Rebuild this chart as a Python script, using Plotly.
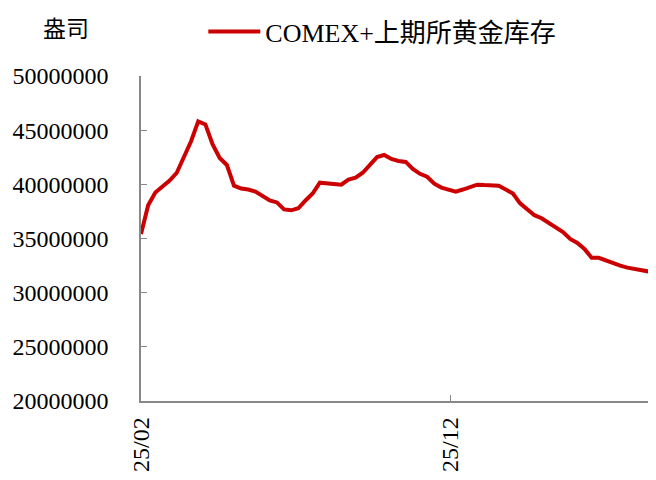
import pandas as pd
import plotly.graph_objects as go

# weekly readings, ounces
start_date = "2025-02-01"
stock_oz = [
    35410000, 38060000, 39240000, 39790000, 40340000, 41070000, 42430000, 43980000,
    45810000, 45530000, 43710000, 42430000, 41790000, 39880000, 39610000, 39520000,
    39330000, 38970000, 38510000, 38330000, 37690000, 37600000, 37790000, 38510000,
    39150000, 40150000, 40060000, 40060000, 39970000, 40430000, 40610000, 41070000,
    41790000, 42520000, 42710000, 42340000, 42160000, 42070000, 41430000, 40970000,
    40700000, 40060000, 39700000, 39520000, 39330000, 39520000, 39790000, 39970000,
    39930000, 39880000, 39880000, 39520000, 39150000, 38240000, 37690000, 37150000,
    36870000, 36420000, 35960000, 35600000, 34960000, 34590000, 34040000, 33220000,
    33220000, 32950000, 32770000, 32490000, 32310000, 32220000, 32130000, 31950000,
    31670000,
]
dates = pd.date_range(start_date, periods=len(stock_oz), freq="7D")

x_tickvals = ["2025-02-01", "2025-12-01"]
x_ticktext = ["25/02", "25/12"]
y_tickvals = [20000000, 25000000, 30000000, 35000000, 40000000, 45000000, 50000000]

font_family = "Liberation Serif, Noto Sans CJK SC, serif"

fig = go.Figure()
fig.add_trace(go.Scatter(
    x=dates,
    y=stock_oz,
    mode="lines",
    name="COMEX+上期所黄金库存",
    line=dict(color="#CC0000", width=4),
))

# page body has an 8px default margin, so the figure is a bit smaller
fig.update_layout(
    width=648,
    height=472,
    margin=dict(l=133, r=0, t=64, b=79),
    paper_bgcolor="white",
    plot_bgcolor="white",
    font=dict(family=font_family, size=24, color="black"),
    showlegend=True,
    legend=dict(
        x=0.121, y=1.137, xanchor="left", yanchor="middle",
        itemwidth=52,
        font=dict(size=26), bgcolor="rgba(0,0,0,0)",
    ),
    xaxis=dict(
        type="date",
        range=[dates[0], dates[-1]],
        tickvals=x_tickvals,
        ticktext=x_ticktext,
        tickangle=-90,
        ticks="inside",
        ticklen=6,
        tickcolor="#888888",
        ticklabelstandoff=5,
        showline=True,
        linecolor="#888888",
        linewidth=1.5,
        showgrid=False,
        zeroline=False,
        automargin=False,
    ),
    yaxis=dict(
        range=[20000000, 50000000],
        tickvals=y_tickvals,
        tickformat="d",
        ticks="inside",
        ticklen=6,
        tickcolor="#888888",
        ticklabelstandoff=26,
        showline=True,
        linecolor="#888888",
        linewidth=1.5,
        showgrid=False,
        zeroline=False,
        automargin=False,
    ),
)

fig.add_annotation(
    text="盎司", xref="paper", yref="paper",
    x=-0.1456, y=1.143, xanchor="center", yanchor="middle",
    showarrow=False, font=dict(size=23),
)

fig.write_html("out.html")
